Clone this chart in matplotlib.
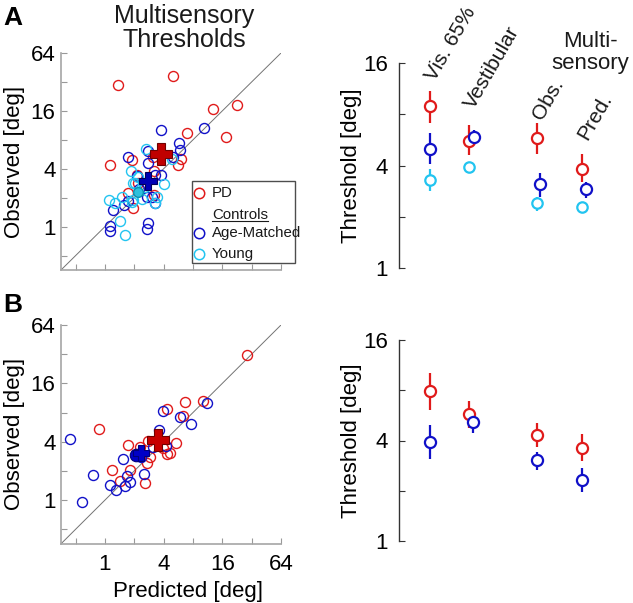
import numpy as np
import matplotlib
matplotlib.use('Agg')
from matplotlib import pyplot as plt
from matplotlib.lines import Line2D
from matplotlib.patches import Rectangle
from matplotlib.ticker import FixedLocator, FuncFormatter

plt.rcParams['font.family'] = ['Liberation Sans', 'DejaVu Sans']

RED = '#e01a1a'
BLUE = '#1010c8'
CYAN = '#22c4f0'

# ---------------- panel A scatter (predicted, observed) [deg]
pd_a_pred = [1.35, 5.0, 12.9, 22.8, 17.3, 7.0, 1.13, 1.91, 6.0, 5.66, 3.18, 2.12, 3.13, 1.71, 1.95, 3.18, 2.17]
pd_a_obs = [29.4, 37.0, 16.6, 18.4, 8.5, 9.4, 4.35, 4.9, 5.0, 4.35, 3.8, 3.42, 5.3, 2.24, 1.57, 2.12, 2.85]

am_a_pred = [3.76, 10.4, 5.7, 5.9, 1.74, 2.74, 3.78, 3.26, 2.12, 2.25, 3.01, 3.26, 1.58, 1.22, 1.13, 1.13,
             2.78, 2.72, 5.0, 1.74, 2.72, 2.76]
am_a_obs = [10.0, 10.5, 7.4, 6.2, 5.3, 4.64, 3.42, 3.42, 3.37, 2.49, 2.04, 1.74, 1.67, 1.48, 1.02, 0.90,
            1.08, 0.94, 5.3, 1.84, 2.04, 6.08]

yg_a_pred = [2.62, 1.84, 4.03, 1.10, 1.28, 1.51, 1.43, 1.59, 1.95, 2.38, 3.26, 3.39, 4.84, 2.03, 2.57, 1.88, 2.2, 1.92]
yg_a_obs = [6.48, 3.8, 2.78, 1.88, 1.74, 2.04, 1.15, 0.82, 1.88, 1.96, 1.74, 2.04, 5.1, 2.85, 2.59, 1.81, 3.29, 2.81]

pd_a_mean = (3.76, 5.66)
am_a_mean = (2.77, 2.97)
yg_a_mean = (2.19, 2.28)

# ---------------- panel B scatter
pd_b_pred = [28.5, 10.2, 6.67, 4.3, 6.27, 0.87, 2.74, 1.71, 2.29, 5.36, 3.97, 4.3, 4.65, 2.9, 2.68, 1.17, 1.81, 1.43, 2.57]
pd_b_obs = [31.3, 10.6, 10.2, 8.8, 7.35, 5.36, 4.09, 3.69, 3.54, 3.84, 3.41, 2.98, 3.07, 2.76, 2.42, 2.04, 2.04, 1.57, 1.49]

am_b_pred = [11.2, 3.91, 5.88, 7.63, 3.61, 0.44, 3.13, 4.2, 1.54, 2.35, 0.76, 2.53, 1.67, 1.13, 1.29, 1.6, 1.81, 0.58]
am_b_obs = [9.93, 8.27, 7.12, 6.03, 5.27, 4.22, 3.54, 3.6, 2.65, 2.75, 1.81, 1.85, 1.78, 1.42, 1.27, 1.40, 1.52, 0.96]

pd_b_mean = (3.47, 4.16)
am_b_mean = (2.32, 3.05)
am_b_dot = (2.08, 2.91)

# ---------------- threshold summaries (mean, lower, upper)
categories = ['Vis. 65%', 'Vestibular', 'Obs.', 'Pred.']
cat_x = [1, 2, 3.74, 4.9]

pd_a = [8.9, 5.6, 5.8, 3.84]
pd_a_lo = [7.1, 4.6, 4.7, 3.18]
pd_a_hi = [10.9, 6.9, 7.1, 4.7]
am_a = [5.0, 5.9, 3.1, 2.93]
am_a_lo = [4.1, 5.4, 2.6, 2.59]
am_a_hi = [6.2, 6.5, 3.6, 3.18]
yg_a = [3.3, 3.9, 2.42, 2.29]
yg_a_lo = [2.85, 3.7, 2.17, 2.14]
yg_a_hi = [3.8, 4.2, 2.6, 2.45]

pd_b = [7.9, 5.77, 4.3, 3.6]
pd_b_lo = [6.1, 4.75, 3.66, 3.0]
pd_b_hi = [10.2, 6.9, 5.1, 4.38]
am_b = [3.92, 5.17, 3.05, 2.32]
am_b_lo = [3.1, 4.44, 2.66, 1.97]
am_b_hi = [4.96, 5.9, 3.41, 2.74]

shift_a = [0, 0.13, 0.08, 0.1]
shift_b = [0, 0.11, 0, 0]

legend_labels = ['PD', 'Controls', 'Age-Matched', 'Young']
legend_colors = [RED, None, BLUE, CYAN]

W, H = 633, 603
fig = plt.figure(figsize=(W / 100, H / 100), dpi=100)


def fx(px):
    return px / W


def fy(py):
    return 1 - py / H


lo_lim, hi_lim = 2 ** -1.5, 64


def scatter_panel(ax, show_xlabels):
    ax.set_xscale('log', base=2)
    ax.set_yscale('log', base=2)
    ax.plot([lo_lim, hi_lim], [lo_lim, hi_lim], color='0.45', lw=0.7, zorder=1)
    ax.set_xlim(lo_lim, hi_lim)
    ax.set_ylim(lo_lim, hi_lim)
    ticks = [0.5, 1, 2, 4, 8, 16, 32, 64]
    fmt = FuncFormatter(lambda v, p: '%d' % v if v in (1, 4, 16, 64) else '')
    for axis in (ax.xaxis, ax.yaxis):
        axis.set_major_locator(FixedLocator(ticks))
        axis.set_minor_locator(FixedLocator([]))
        axis.set_major_formatter(fmt)
    ax.tick_params(direction='in', length=4, color='0.6', labelsize=16, pad=4)
    if not show_xlabels:
        ax.tick_params(axis='x', labelbottom=False)
    else:
        ax.tick_params(axis='x', pad=7)
    for s in ('top', 'right'):
        ax.spines[s].set_visible(False)
    for s in ('left', 'bottom'):
        ax.spines[s].set_color('0.65')
        ax.spines[s].set_linewidth(1.2)
    ax.set_ylabel('Observed [deg]', fontsize=16, labelpad=4)


def open_pts(ax, x, y, c, **kw):
    ax.plot(x, y, 'o', ls='none', mfc='none', mec=c, ms=7.2, mew=1.0, zorder=3, **kw)


# ---- scatter A
axA = fig.add_axes([fx(61), fy(270), fx(220), 217 / H])
scatter_panel(axA, False)
open_pts(axA, pd_a_pred, pd_a_obs, RED)
open_pts(axA, am_a_pred, am_a_obs, BLUE)
open_pts(axA, yg_a_pred, yg_a_obs, CYAN)
axA.plot(*yg_a_mean, 'o', ms=7, mfc='#2cc0dc', mec='#0b8fb0', mew=1, zorder=5)
axA.plot(*am_a_mean, 'P', ms=13, mfc='#0000b4', mec='#00005a', mew=0.8, zorder=5)
axA.plot(*pd_a_mean, 'P', ms=16, mfc='#c00000', mec='#700000', mew=0.8, zorder=5)

# hand-made legend box (sticks out past the axes on the right)
axA.add_patch(Rectangle((0.595, 0.032), 0.468, 0.378, transform=axA.transAxes, fill=True,
                        fc='white', ec='0.3', lw=1.0, clip_on=False, zorder=6))
row_y = [0.355, 0.253, 0.171, 0.074]
texts = []
for yy, lab, col in zip(row_y, legend_labels, legend_colors):
    if col is not None:
        axA.plot([0.627], [yy], 'o', mfc='none', mec=col, ms=7.5, mew=1.1,
                 transform=axA.transAxes, clip_on=False, zorder=7)
    texts.append(axA.text(0.686, yy, lab, transform=axA.transAxes, fontsize=10.8,
                          va='center', ha='left', color='0.1', zorder=7))

fig.text(fx(184), fy(28), 'Multisensory\nThresholds', ha='center', va='center',
         fontsize=18, linespacing=1.05, color='0.1')

# ---- scatter B
axB = fig.add_axes([fx(61), fy(543.8), fx(220), 218.8 / H])
scatter_panel(axB, True)
open_pts(axB, pd_b_pred, pd_b_obs, RED)
open_pts(axB, am_b_pred, am_b_obs, BLUE)
axB.plot(*am_b_dot, 'o', ms=9, mfc='#0000c8', mec='#00007a', mew=0.8, zorder=5)
axB.plot(*am_b_mean, 'P', ms=12, mfc='#0000c8', mec='#00007a', mew=0.8, zorder=5)
axB.plot(*pd_b_mean, 'P', ms=16, mfc='#c80000', mec='#700000', mew=0.8, zorder=5)
axB.set_xlabel('Predicted [deg]', fontsize=16, labelpad=2)
axB.xaxis.set_label_coords(0.577, -0.17)


# ---- threshold panels
def thresh_panel(ax):
    ax.set_yscale('log', base=2)
    ax.set_ylim(1, 16)
    ax.set_xlim(0.2, 6.0)
    ax.yaxis.set_major_locator(FixedLocator([1, 2, 4, 8, 16]))
    ax.yaxis.set_minor_locator(FixedLocator([]))
    ax.yaxis.set_major_formatter(FuncFormatter(lambda v, p: '%d' % v if v in (1, 4, 16) else ''))
    ax.tick_params(axis='y', direction='in', length=4, color='0.2', labelsize=16, pad=8)
    ax.set_xticks([])
    for s in ('top', 'right', 'bottom'):
        ax.spines[s].set_visible(False)
    ax.spines['left'].set_color('0.2')
    ax.spines['left'].set_linewidth(1.0)
    ax.set_ylabel('Threshold [deg]', fontsize=16, labelpad=1)


def group(ax, m, lo, hi, c, shift, ms=8):
    x = np.array(cat_x) + np.array(shift)
    m = np.array(m)
    err = [m - np.array(lo), np.array(hi) - m]
    ax.errorbar(x, m, yerr=err, fmt='o', mfc='white', mec=c, ecolor=c, ms=ms, mew=1.6,
                elinewidth=1.6, capsize=0, zorder=3)


axC = fig.add_axes([fx(399), fy(268), fx(226), 205 / H])
thresh_panel(axC)
group(axC, yg_a, yg_a_lo, yg_a_hi, CYAN, [0, 0, 0, 0], ms=7.5)
group(axC, pd_a, pd_a_lo, pd_a_hi, RED, [0, 0, 0, 0])
group(axC, am_a, am_a_lo, am_a_hi, BLUE, shift_a)

label_y = [0.905, 0.771, 0.717, 0.62]
for xc, yl, name in zip(cat_x, label_y, categories):
    axC.text(xc + 0.12, yl, name, transform=axC.get_xaxis_transform(), rotation=60,
             rotation_mode='anchor', ha='left', va='baseline', fontsize=15, color='0.1',
             clip_on=False)
fig.text(fx(590), fy(52.5), 'Multi-\nsensory', ha='center', va='center', fontsize=16,
         linespacing=1.05, color='0.1')

axD = fig.add_axes([fx(399), fy(541), fx(226), 201 / H])
thresh_panel(axD)
group(axD, pd_b, pd_b_lo, pd_b_hi, RED, [0, 0, 0, 0])
group(axD, am_b, am_b_lo, am_b_hi, BLUE, shift_b)

fig.text(fx(3), fy(6), 'A', fontsize=19, fontweight='bold', va='top', ha='left')
fig.text(fx(3), fy(293), 'B', fontsize=19, fontweight='bold', va='top', ha='left')

# underline the "Controls" entry
fig.canvas.draw()
bb = texts[1].get_window_extent()
inv = fig.transFigure.inverted()
(x0, y0), (x1, _) = inv.transform([(bb.x0, bb.y0 + 1), (bb.x1, bb.y0 + 1)])
fig.add_artist(Line2D([x0, x1], [y0, y0], color='0.1', lw=0.8, transform=fig.transFigure))

fig.savefig('out.png', dpi=100)
